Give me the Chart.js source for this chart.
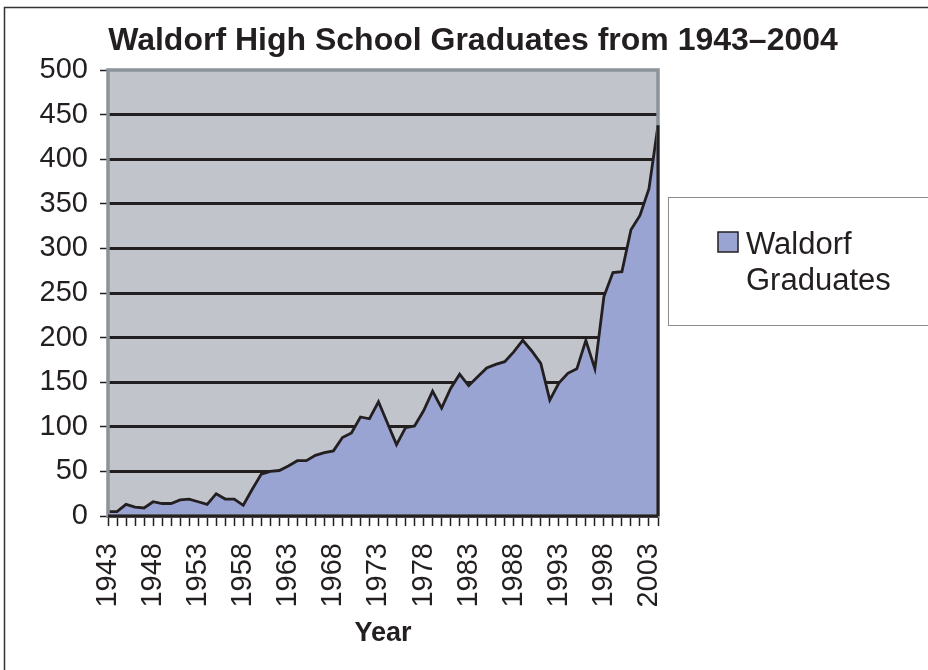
<!DOCTYPE html>
<html>
<head>
<meta charset="utf-8">
<script src="https://cdn.jsdelivr.net/npm/chart.js@4"></script>
<style>
  html, body { margin: 0; padding: 0; background: #fff; overflow: hidden; }
</style>
</head>
<body>
<canvas id="graph" width="928" height="670"></canvas>
<script>
// Data
const years = [
  1943, 1944, 1945, 1946, 1947, 1948, 1949, 1950, 1951, 1952,
  1953, 1954, 1955, 1956, 1957, 1958, 1959, 1960, 1961, 1962,
  1963, 1964, 1965, 1966, 1967, 1968, 1969, 1970, 1971, 1972,
  1973, 1974, 1975, 1976, 1977, 1978, 1979, 1980, 1981, 1982,
  1983, 1984, 1985, 1986, 1987, 1988, 1989, 1990, 1991, 1992,
  1993, 1994, 1995, 1996, 1997, 1998, 1999, 2000, 2001, 2002,
  2003, 2004
];
const graduates = [
  5, 5, 13, 10, 9, 16, 14, 14, 18, 19,
  16, 13, 25, 19, 19, 12, 30, 47, 50, 51,
  56, 62, 62, 68, 71, 73, 88, 93, 111, 109,
  128, 104, 80, 99, 101, 118, 140, 121, 143, 159,
  146, 156, 166, 170, 173, 184, 197, 185, 171, 130,
  149, 160, 165, 197, 165, 246, 273, 274, 321, 337,
  367, 438
];
// years that get a label on the x axis
const labelYears = [1943, 1948, 1953, 1958, 1963, 1968, 1973, 1978, 1983, 1988, 1993, 1998, 2003];

const ink = '#231f20';
const plotGray = '#c2c4cc';
const frameGray = '#8c9399';
const areaBlue = '#9aa4d2';

Chart.defaults.font.family = '"Liberation Sans", Arial, sans-serif';
Chart.defaults.color = ink;

// plot background, outer frame
const plotBack = {
  id: 'plotBack',
  beforeDraw(chart) {
    const { ctx, chartArea: a } = chart;
    ctx.save();
    ctx.fillStyle = plotGray;
    ctx.fillRect(a.left, a.top, a.right - a.left, a.bottom - a.top);
    ctx.strokeStyle = '#333';
    ctx.lineWidth = 1.5;
    ctx.strokeRect(4.5, 7.5, 1200, 1200);
    ctx.restore();
  }
};

// plot edges drawn over the area
const plotEdges = {
  id: 'plotEdges',
  afterDatasetsDraw(chart) {
    const { ctx, chartArea: a } = chart;
    const pts = chart.getDatasetMeta(0).data;
    const last = pts[pts.length - 1];
    ctx.save();
    ctx.strokeStyle = frameGray;
    ctx.lineWidth = 3.5;
    ctx.strokeRect(a.left, a.top, a.right - a.left, a.bottom - a.top);
    ctx.strokeStyle = ink;
    ctx.lineWidth = 3;
    ctx.beginPath();
    ctx.moveTo(a.left, a.bottom);
    ctx.lineTo(a.right, a.bottom);
    ctx.moveTo(a.right, a.bottom);
    ctx.lineTo(a.right, last.y);
    ctx.stroke();
    ctx.restore();
  }
};

// boxed legend at the right, label on two lines
const sideLegend = {
  id: 'sideLegend',
  afterDraw(chart) {
    const { ctx, chartArea: a } = chart;
    const ds = chart.data.datasets[0];
    const x0 = a.right + 10;
    const y0 = a.top + 127;
    ctx.save();
    ctx.strokeStyle = '#8c8c8c';
    ctx.lineWidth = 1;
    ctx.strokeRect(x0 + 0.5, y0 + 0.5, 400, 128);
    ctx.fillStyle = ds.backgroundColor;
    ctx.fillRect(x0 + 50, y0 + 35, 20, 20);
    ctx.strokeStyle = ink;
    ctx.lineWidth = 1.5;
    ctx.strokeRect(x0 + 50, y0 + 35, 20, 20);
    ctx.fillStyle = ink;
    ctx.font = '31px "Liberation Sans", Arial, sans-serif';
    ctx.textBaseline = 'alphabetic';
    const words = ds.label.split(' ');
    ctx.fillText(words[0], x0 + 78, y0 + 57);
    ctx.fillText(words[1], x0 + 78, y0 + 93);
    ctx.restore();
  }
};

const ctx = document.getElementById('graph').getContext('2d');
new Chart(ctx, {
  type: 'line',
  data: {
    labels: years,
    datasets: [{
      label: 'Waldorf Graduates',
      data: graduates,
      fill: 'origin',
      backgroundColor: areaBlue,
      borderColor: ink,
      borderWidth: 2.8,
      pointRadius: 0,
      tension: 0
    }]
  },
  options: {
    responsive: false,
    animation: false,
    events: [],
    layout: { padding: { left: 18, right: 0, top: 0, bottom: 0 } },
    scales: {
      x: {
        offset: false,
        ticks: {
          autoSkip: false,
          minRotation: 90,
          maxRotation: 90,
          padding: 17,
          font: { size: 29 },
          callback: function (v, i) {
            return labelYears.includes(years[i]) ? String(years[i]) : '';
          }
        },
        grid: { drawOnChartArea: false, drawTicks: true, tickLength: 10, tickColor: ink, tickWidth: 1.5 },
        border: { display: true, color: ink, width: 3 },
        title: {
          display: true,
          text: 'Year',
          font: { size: 27, weight: 'bold' },
          padding: { top: 4, bottom: 20 }
        },
        afterFit: s => { s.height = 154; }
      },
      y: {
        min: 0,
        max: 500,
        ticks: { stepSize: 50, autoSkip: false, padding: 12, font: { size: 29 } },
        grid: {
          color: c => (c.tick && c.tick.value === 500) ? 'rgba(0,0,0,0)' : ink,
          lineWidth: 3,
          tickLength: 8,
          tickColor: ink,
          tickWidth: 1.5
        },
        border: { display: false },
        afterFit: s => { s.width = 90; }
      },
      // empty axis only to keep room for the legend
      side: {
        position: 'right',
        display: true,
        grid: { display: false, drawTicks: false },
        ticks: { display: false },
        border: { display: false },
        afterFit: s => { s.width = 270; }
      }
    },
    plugins: {
      title: {
        display: true,
        text: 'Waldorf High School Graduates from 1943–2004',
        font: { size: 32, weight: 'bold' },
        color: ink,
        padding: { top: 22, bottom: 9.6 }
      },
      legend: { display: false },
      tooltip: { enabled: false }
    }
  },
  plugins: [plotBack, plotEdges, sideLegend]
});
</script>
</body>
</html>
